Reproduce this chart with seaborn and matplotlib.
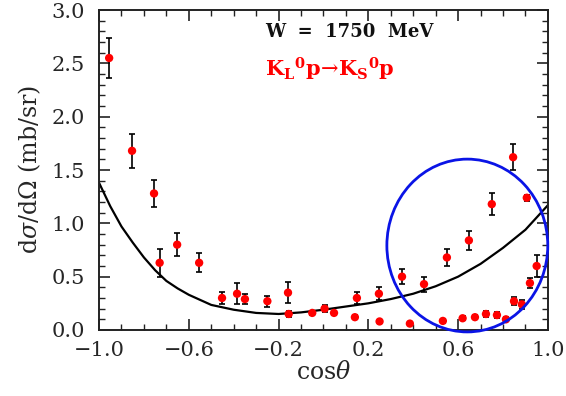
import numpy as np
import pandas as pd
import matplotlib
matplotlib.use("Agg")
import matplotlib.pyplot as plt
import seaborn as sns
from matplotlib.patches import Ellipse
from matplotlib.ticker import MultipleLocator

# Measured differential cross section, K_L p -> K_S p at W = 1750 MeV
cos_theta = [-0.955, -0.853, -0.755, -0.730, -0.652, -0.554, -0.452, -0.385,
             -0.350, -0.250, -0.158, -0.155, -0.050, 0.005, 0.047, 0.140,
             0.149, 0.247, 0.250, 0.350, 0.385, 0.448, 0.532, 0.550,
             0.620, 0.648, 0.675, 0.724, 0.750, 0.773, 0.813, 0.845,
             0.849, 0.884, 0.906, 0.920, 0.950]
dsigma = [2.55, 1.68, 1.28, 0.63, 0.80, 0.63, 0.30, 0.34,
          0.29, 0.27, 0.35, 0.15, 0.16, 0.20, 0.16, 0.12,
          0.30, 0.34, 0.08, 0.50, 0.06, 0.43, 0.085, 0.68,
          0.11, 0.84, 0.12, 0.15, 1.18, 0.14, 0.10, 1.62,
          0.27, 0.24, 1.24, 0.44, 0.60]
dsigma_err = [0.19, 0.16, 0.13, 0.13, 0.11, 0.09, 0.06, 0.10,
              0.05, 0.05, 0.10, 0.03, 0.02, 0.03, 0.02, 0.02,
              0.06, 0.06, 0.01, 0.07, 0.01, 0.07, 0.015, 0.08,
              0.02, 0.09, 0.02, 0.03, 0.10, 0.03, 0.02, 0.12,
              0.04, 0.04, 0.03, 0.05, 0.10]

# Model prediction
model_cos = [-1.0, -0.95, -0.9, -0.85, -0.8, -0.75, -0.7, -0.65, -0.6, -0.5,
             -0.4, -0.3, -0.2, -0.1, 0.0, 0.1, 0.2, 0.3, 0.4, 0.5,
             0.6, 0.7, 0.8, 0.9, 1.0]
model_dsigma = [1.38, 1.16, 0.97, 0.82, 0.68, 0.56, 0.46, 0.39, 0.33, 0.235,
                0.19, 0.16, 0.15, 0.165, 0.19, 0.22, 0.25, 0.29, 0.34, 0.41,
                0.50, 0.62, 0.77, 0.94, 1.17]

data = pd.DataFrame({"cos": cos_theta, "dsig": dsigma, "err": dsigma_err})
model = pd.DataFrame({"cos": model_cos, "dsig": model_dsigma})

sns.set_theme(style="ticks")
plt.rcParams["font.family"] = ["DejaVu Serif"]
plt.rcParams["mathtext.fontset"] = "dejavuserif"

fig = plt.figure(figsize=(5.66, 3.96), dpi=100)
ax = fig.add_axes([0.175, 0.1667, 0.793, 0.808])

sns.lineplot(data=model, x="cos", y="dsig", ax=ax, color="black",
             linewidth=1.6, sort=False, zorder=2)
ax.errorbar(data["cos"], data["dsig"], yerr=data["err"], fmt="none",
            ecolor="black", elinewidth=1.2, capsize=2.5, capthick=1.2, zorder=3)
sns.scatterplot(data=data, x="cos", y="dsig", ax=ax, color="red",
                s=36, edgecolor="none", zorder=4)

# Highlight the forward-angle region
ax.add_patch(Ellipse((0.641, 0.792), 0.717, 1.62, fill=False,
                     edgecolor="#0a14e6", linewidth=2.0, clip_on=False, zorder=5))

ax.set_xlim(-1.0, 1.0)
ax.set_ylim(0.0, 3.0)
ax.xaxis.set_major_locator(MultipleLocator(0.4))
ax.xaxis.set_minor_locator(MultipleLocator(0.1))
ax.yaxis.set_major_locator(MultipleLocator(0.5))
ax.yaxis.set_minor_locator(MultipleLocator(0.1))
ax.set_xticks([-1.0, -0.6, -0.2, 0.2, 0.6, 1.0])
ax.set_xticklabels(["\u22121.0", "\u22120.6", "\u22120.2", "0.2", "0.6", "1.0"])
ax.set_yticks([0.0, 0.5, 1.0, 1.5, 2.0, 2.5, 3.0])
ax.set_yticklabels(["0.0", "0.5", "1.0", "1.5", "2.0", "2.5", "3.0"])

ax.tick_params(which="both", direction="in", top=True, right=True,
               labelsize=15, color="#222222")
ax.tick_params(which="major", length=8, width=1.2)
ax.tick_params(which="minor", length=4, width=1.0)
ax.tick_params(axis="y", pad=10)
ax.tick_params(axis="x", pad=8)
for s in ax.spines.values():
    s.set_linewidth(1.4)
    s.set_color("#222222")

ax.set_xlabel(r"cos$\theta$", fontsize=17, labelpad=1)
ax.set_ylabel(r"d$\sigma$/d$\Omega$ (mb/sr)", fontsize=17, labelpad=6)

ax.text(-0.26, 2.79, "W  =  1750  MeV", fontsize=13, fontweight="bold",
        color="#111111", ha="left", va="center")
ax.text(-0.26, 2.44,
        r"$\mathbf{K}_\mathbf{L}{}^\mathbf{0}\mathbf{p}\!\rightarrow\!"
        r"\mathbf{K}_\mathbf{S}{}^\mathbf{0}\mathbf{p}$",
        fontsize=15, color="red", ha="left", va="center")

fig.savefig("out.png", dpi=100)
